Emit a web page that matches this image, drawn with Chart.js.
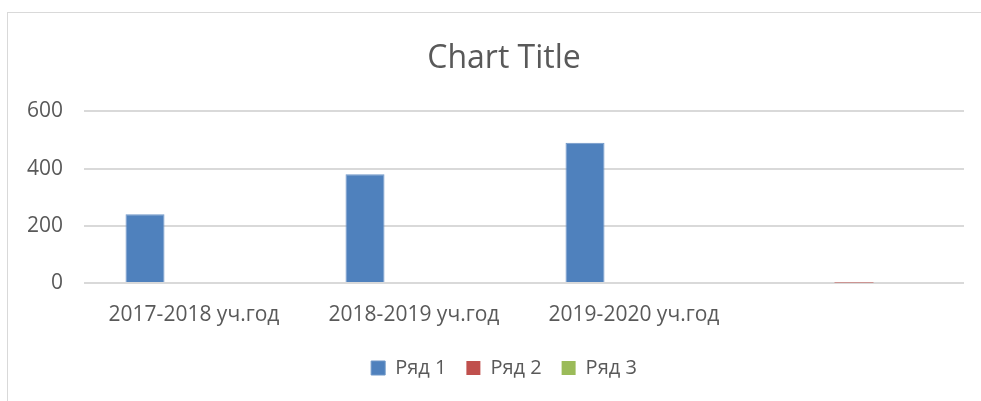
<!DOCTYPE html>
<html>
<head>
<meta charset="utf-8">
<script src="https://cdn.jsdelivr.net/npm/chart.js@4/dist/chart.umd.min.js"></script>
<style>
  html, body { margin: 0; padding: 0; background: #fff; }
  #wrap { position: relative; width: 981px; height: 401px; overflow: hidden; }
  #frame { position: absolute; left: 7px; top: 12px; width: 990px; height: 400px; border: 1px solid #d9d9d9; box-sizing: border-box; }
  #box { position: absolute; left: 0; top: 0; width: 981px; height: 401px; }
</style>
</head>
<body>
<div id="wrap">
  <div id="frame"></div>
  <div id="box"><canvas id="chart"></canvas></div>
</div>
<script>
const categories = ['2017-2018 уч.год', '2018-2019 уч.год', '2019-2020 уч.год', ''];
const row1 = [240, 380, 490, null];
const row2 = [null, null, null, 2];
const row3 = [null, null, null, null];
const seriesNames = ['Ряд 1', 'Ряд 2', 'Ряд 3'];
const yTicks = [0, 200, 400, 600];

const textColor = '#595959';
const fontFamily = '"Open Sans", "Noto Sans", sans-serif';

const config = {
  type: 'bar',
  data: {
    labels: categories,
    datasets: [{
      label: seriesNames[0],
      data: row1,
      backgroundColor: '#4f81bd',
      borderColor: '#6f97c8',
      borderWidth: 1
    },
    {
      label: seriesNames[1],
      data: row2,
      backgroundColor: '#c0504d',
      borderColor: '#c0504d',
      borderWidth: 0
    },
    {
      label: seriesNames[2],
      data: row3,
      backgroundColor: '#9bbb59',
      borderColor: '#9bbb59',
      borderWidth: 0
    }]
  },
  options: {
    responsive: true,
    maintainAspectRatio: false,
    animation: false,
    categoryPercentage: 0.668,
    barPercentage: 0.796,
    layout: {
      padding: {left: 44, right: 17, top: 0, bottom: 13}
    },
    plugins: {
      title: {
        display: true,
        text: 'Chart Title',
        color: textColor,
        font: {family: fontFamily, size: 32, weight: 'normal'},
        padding: {top: 40, bottom: 33}
      },
      legend: {
        position: 'bottom',
        labels: {
          color: textColor,
          font: {family: fontFamily, size: 20},
          boxWidth: 14,
          boxHeight: 14,
          padding: 20
        }
      },
      tooltip: {enabled: false}
    },
    scales: {
      x: {
        grid: {display: false, drawTicks: false},
        border: {display: false},
        ticks: {
          color: textColor,
          font: {family: fontFamily, size: 21},
          padding: 19,
          maxRotation: 0
        },
        afterFit(scale) {
          scale.height = 55; // leaves the gap above the legend
        }
      },
      y: {
        min: 0,
        max: 600,
        afterBuildTicks(scale) {
          scale.ticks = yTicks.map(v => ({value: v}));
        },
        afterFit(scale) {
          scale.width = 40;
        },
        grid: {
          color: '#d9d9d9',
          lineWidth: 2,
          drawTicks: false
        },
        border: {display: false},
        ticks: {
          color: textColor,
          font: {family: fontFamily, size: 21},
          // mirrored + far so labels are not clipped and stay right-aligned at x=62
          mirror: true,
          crossAlign: 'far',
          padding: -57
        }
      }
    }
  }
};

const chart = new Chart(document.getElementById('chart'), config);
</script>
</body>
</html>
